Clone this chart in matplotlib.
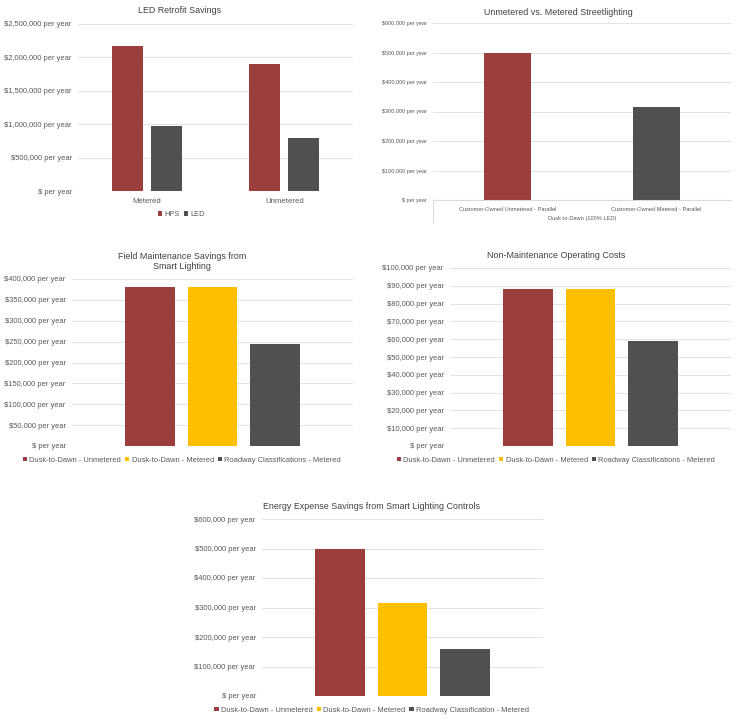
import matplotlib.pyplot as plt
import numpy as np

plt.rcParams['font.family'] = ['Liberation Sans', 'DejaVu Sans']

RED = '#9C3E3E'
YELLOW = '#FDBF00'
GREY = '#505050'
TXT = '#595959'

# chart 1 - LED retrofit savings
retro_groups = ['Metered', 'Unmetered']
retro_hps = [2170000, 1900000]
retro_led = [980000, 790000]

# chart 2 - unmetered vs metered
street_cats = ['Customer-Owned Unmetered - Parallel', 'Customer-Owned Metered - Parallel']
street_vals = [500000, 316000]

# charts 3-5
series3 = ['Dusk-to-Dawn - Unmetered', 'Dusk-to-Dawn - Metered', 'Roadway Classifications - Metered']
series5 = ['Dusk-to-Dawn - Unmetered', 'Dusk-to-Dawn - Metered', 'Roadway Classification - Metered']
field_vals = [380000, 380000, 244000]
nonmaint_vals = [88000, 88000, 58800]
energy_vals = [500000, 316000, 158000]

W, H = 738, 720
fig = plt.figure(figsize=(W / 100, H / 100), dpi=100)


def add_ax(l, t, r, b):
    return fig.add_axes([l / W, 1 - b / H, (r - l) / W, (b - t) / H])


def money(v, pos=None):
    if v == 0:
        return '$ per year'
    return '${:,.0f} per year'.format(v)


def style(ax, ticks, fs):
    ax.set_ylim(ticks[0], ticks[-1])
    ax.set_yticks(ticks)
    ax.set_yticklabels([money(t) for t in ticks], fontsize=fs, color=TXT)
    ax.yaxis.grid(True, color='#E3E3E3', lw=0.8)
    ax.set_axisbelow(True)
    for s in ax.spines.values():
        s.set_visible(False)
    ax.tick_params(length=0, pad=4.5)


def legend(ax, xc, y, fs):
    ax.legend(loc='center', bbox_to_anchor=(xc, y), ncol=3, frameon=False,
              fontsize=fs, handlelength=0.6, handleheight=0.6, handletextpad=0.3,
              columnspacing=0.5, labelcolor=TXT)


# chart 1
ax1 = add_ax(78, 24, 353, 191)
x = np.arange(len(retro_groups))
ax1.bar(x - 0.142, retro_hps, 0.225, color=RED, label='HPS')
ax1.bar(x + 0.142, retro_led, 0.225, color=GREY, label='LED')
ax1.set_xlim(-0.5, 1.5)
style(ax1, np.arange(0, 2500001, 500000), 5.4)
ax1.set_xticks(x)
ax1.set_xticklabels(retro_groups, fontsize=5.6, color=TXT)
ax1.tick_params(axis='x', pad=5)
ax1.set_title('LED Retrofit Savings', fontsize=6.4, color='#404040', pad=8, x=0.37)
legend(ax1, 0.376, -0.14, 5.4)

# chart 2
ax2 = add_ax(433, 23, 731, 200)
x = np.arange(len(street_cats))
ax2.bar(x, street_vals, 0.315, color=[RED, GREY])
ax2.set_xlim(-0.5, 1.5)
style(ax2, np.arange(0, 600001, 100000), 4.0)
ax2.set_xticks(x)
ax2.set_xticklabels(street_cats, fontsize=4.1, color=TXT)
ax2.tick_params(axis='x', pad=5)
ax2.spines['bottom'].set_visible(True)
ax2.spines['bottom'].set_color('#D9D9D9')
ax2.plot([-0.5, -0.5], [0, -0.125], transform=ax2.get_xaxis_transform(),
         color='#D9D9D9', lw=0.8, clip_on=False)
ax2.text(0.5, -0.105, 'Dusk-to-Dawn (100% LED)', transform=ax2.transAxes,
         ha='center', va='center', fontsize=4.1, color=TXT)
ax2.set_title('Unmetered vs. Metered Streetlighting', fontsize=6.4, color='#404040',
              pad=6, x=0.42)

# charts 3-5
colors3 = [RED, YELLOW, GREY]


def three_bar(ax, vals, names, ticks, fs, title, xc, legy):
    xs = np.arange(-1, 2)
    for xi, v, c, n in zip(xs, vals, colors3, names):
        ax.bar(xi, v, 0.79, color=c, label=n)
    ax.set_xlim(-2.25, 2.25)
    ax.set_xticks([])
    style(ax, ticks, fs)
    ax.set_title(title, fontsize=6.4, color='#404040', pad=7, x=xc)
    legend(ax, xc, legy, fs)


ax3 = add_ax(72, 279, 353, 446)
three_bar(ax3, field_vals, series3, np.arange(0, 400001, 50000), 5.4,
          'Field Maintenance Savings from\nSmart Lighting', 0.391, -0.085)

ax4 = add_ax(450, 268, 731, 446)
three_bar(ax4, nonmaint_vals, series3, np.arange(0, 100001, 10000), 5.4,
          'Non-Maintenance Operating Costs', 0.377, -0.08)

ax5 = add_ax(262, 519, 543, 696)
three_bar(ax5, energy_vals, series5, np.arange(0, 600001, 100000), 5.4,
          'Energy Expense Savings from Smart Lighting Controls', 0.391, -0.08)

fig.savefig('out.png', dpi=100, facecolor='white')
